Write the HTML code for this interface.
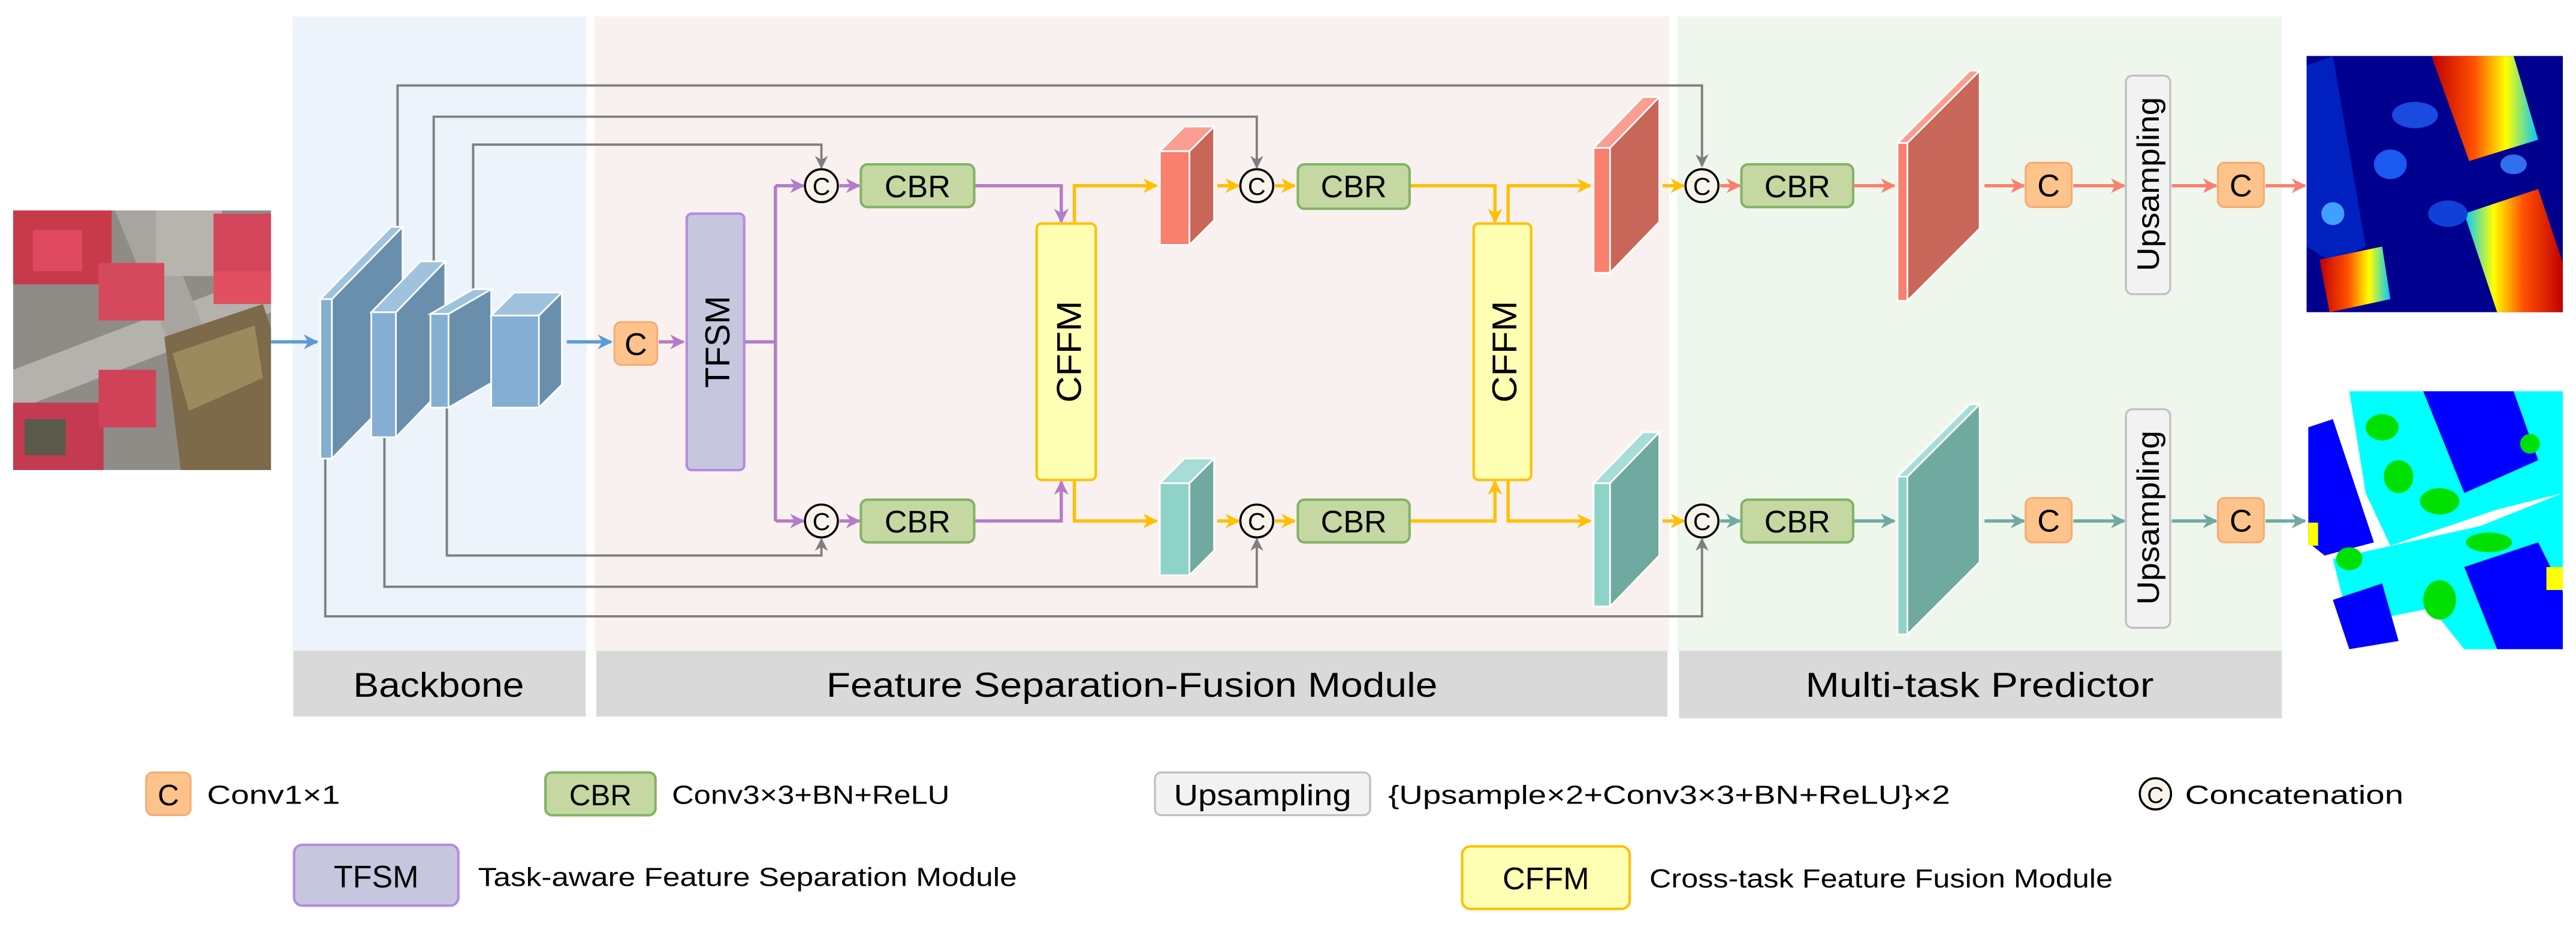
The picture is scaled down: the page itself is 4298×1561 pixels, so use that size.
<!DOCTYPE html>
<html><head><meta charset="utf-8"><style>
html,body{margin:0;padding:0;background:#fff;}
svg{display:block;}
text{font-family:"Liberation Sans",sans-serif;fill:#000;}
</style></head><body>
<svg width="4298" height="1561" viewBox="0 0 1568 569.5" preserveAspectRatio="none" xmlns="http://www.w3.org/2000/svg">
<defs>
<marker id="ag" viewBox="0 0 10 10" refX="9" refY="5" markerWidth="8" markerHeight="8" markerUnits="userSpaceOnUse" orient="auto"><path d="M0,0 L10,5 L0,10 L3,5 z" fill="#7f7f7f"/></marker>
<marker id="ap" viewBox="0 0 10 10" refX="9" refY="5" markerWidth="9" markerHeight="9" markerUnits="userSpaceOnUse" orient="auto"><path d="M0,0 L10,5 L0,10 L3,5 z" fill="#b47cc7"/></marker>
<marker id="ay" viewBox="0 0 10 10" refX="9" refY="5" markerWidth="9" markerHeight="9" markerUnits="userSpaceOnUse" orient="auto"><path d="M0,0 L10,5 L0,10 L3,5 z" fill="#ffc000"/></marker>
<marker id="ar" viewBox="0 0 10 10" refX="9" refY="5" markerWidth="9" markerHeight="9" markerUnits="userSpaceOnUse" orient="auto"><path d="M0,0 L10,5 L0,10 L3,5 z" fill="#f9806f"/></marker>
<marker id="at" viewBox="0 0 10 10" refX="9" refY="5" markerWidth="9" markerHeight="9" markerUnits="userSpaceOnUse" orient="auto"><path d="M0,0 L10,5 L0,10 L3,5 z" fill="#6fa9a0"/></marker>
<marker id="ab" viewBox="0 0 10 10" refX="9" refY="5" markerWidth="9" markerHeight="9" markerUnits="userSpaceOnUse" orient="auto"><path d="M0,0 L10,5 L0,10 L3,5 z" fill="#5b9bd5"/></marker>
<linearGradient id="jet" x1="0" y1="0" x2="1" y2="0">
<stop offset="0" stop-color="#00c8ff"/><stop offset="0.3" stop-color="#ffff00"/><stop offset="0.6" stop-color="#ff5000"/><stop offset="1" stop-color="#c00000"/></linearGradient>
<linearGradient id="jet2" x1="1" y1="0" x2="0" y2="0">
<stop offset="0" stop-color="#00c8ff"/><stop offset="0.3" stop-color="#ffff00"/><stop offset="0.6" stop-color="#ff5000"/><stop offset="1" stop-color="#c00000"/></linearGradient>
<clipPath id="c1"><rect x="8" y="128" width="157" height="158"/></clipPath>
<clipPath id="c2"><rect x="1404" y="34" width="156" height="156"/></clipPath>
<clipPath id="c3"><rect x="1405" y="238" width="155" height="157"/></clipPath>
</defs>

<rect x="178" y="10" width="179" height="386" fill="#edf3fa"/>
<rect x="362" y="10" width="654" height="386" fill="#f9f1f0"/>
<rect x="1021" y="10" width="368" height="386" fill="#eff6ec"/>
<rect x="178.5" y="396" width="178" height="40" fill="#d9d9d9"/>
<rect x="363" y="396" width="652" height="40" fill="#d9d9d9"/>
<rect x="1022" y="396" width="367" height="41" fill="#d9d9d9"/>
<text x="267" y="424" font-size="21" text-anchor="middle" textLength="104" lengthAdjust="spacingAndGlyphs">Backbone</text>
<text x="689" y="424" font-size="21" text-anchor="middle" textLength="372" lengthAdjust="spacingAndGlyphs">Feature Separation-Fusion Module</text>
<text x="1205" y="424" font-size="21" text-anchor="middle" textLength="212" lengthAdjust="spacingAndGlyphs">Multi-task Predictor</text>

<g clip-path="url(#c1)">
<rect x="8" y="128" width="157" height="158" fill="#8f8c88"/>
<polygon points="8,225 165,165 165,190 8,250" fill="#b5b2ae"/>
<polygon points="70,128 95,128 165,300 140,300" fill="#a8a5a0"/>
<rect x="8" y="128" width="60" height="45" fill="#c83a4a"/>
<rect x="20" y="140" width="30" height="25" fill="#e04a60"/>
<rect x="95" y="128" width="40" height="40" fill="#b7b4ae"/>
<rect x="130" y="130" width="35" height="40" fill="#d2455a"/>
<rect x="60" y="160" width="40" height="35" fill="#d44a5c"/>
<polygon points="100,205 160,185 165,200 165,286 110,286" fill="#7d6a4a"/>
<polygon points="105,215 155,198 160,230 115,250" fill="#9b8a5c"/>
<rect x="8" y="245" width="55" height="41" fill="#c43a50"/>
<rect x="60" y="225" width="35" height="35" fill="#d04258"/>
<rect x="15" y="255" width="25" height="22" fill="#5a5a4a"/>
<rect x="130" y="165" width="35" height="20" fill="#e05060"/>
</g>
<path d="M165,208 H193" stroke="#5b9bd5" stroke-width="2" fill="none" marker-end="url(#ab)"/>

<g stroke="#7f7f7f" stroke-width="1.4" fill="none">
<path d="M242,140 V52 H1036 V101" marker-end="url(#ag)"/>
<path d="M264,162 V71 H765 V102" marker-end="url(#ag)"/>
<path d="M288,178 V88 H500 V102" marker-end="url(#ag)"/>
<path d="M198,279 V375 H1036 V328" marker-end="url(#ag)"/>
<path d="M234,266 V357 H765 V328" marker-end="url(#ag)"/>
<path d="M272,248 V338 H500 V328" marker-end="url(#ag)"/>
</g>

<g stroke="#fff" stroke-width="1">
<polygon points="202,182 245,138 245,235 202,279" fill="#6a8fad"/>
<polygon points="195,182 202,182 245,138 238,138" fill="#9fc3dd"/>
<rect x="195" y="182" width="7" height="97" fill="#84afd2"/>
<polygon points="241,190 271,159 271,235 241,266" fill="#6a8fad"/>
<polygon points="226,190 241,190 271,159 256,159" fill="#9fc3dd"/>
<rect x="226" y="190" width="15" height="76" fill="#84afd2"/>
<polygon points="273,191 299,176 299,233 273,248" fill="#6a8fad"/>
<polygon points="262,191 273,191 299,176 288,176" fill="#9fc3dd"/>
<rect x="262" y="191" width="11" height="57" fill="#84afd2"/>
<polygon points="328,192 342,178 342,234 328,248" fill="#6a8fad"/>
<polygon points="299,192 328,192 342,178 313,178" fill="#9fc3dd"/>
<rect x="299" y="192" width="29" height="56" fill="#84afd2"/>
</g>
<path d="M345,208 H372" stroke="#5b9bd5" stroke-width="2" fill="none" marker-end="url(#ab)"/>

<rect x="374" y="196" width="26" height="26" rx="4" fill="#fec38a" stroke="#f5ad74" stroke-width="1.2"/>
<text x="387" y="216" font-size="19" text-anchor="middle">C</text>

<g stroke="#b47cc7" stroke-width="2" fill="none">
<path d="M401,208 H416" marker-end="url(#ap)"/>
<path d="M453,208 H472 M472,113 V317"/>
<path d="M472,113 H489" marker-end="url(#ap)"/>
<path d="M472,317 H489" marker-end="url(#ap)"/>
<path d="M511,113 H523" marker-end="url(#ap)"/>
<path d="M511,317 H523" marker-end="url(#ap)"/>
<path d="M593,113 H646 V135" marker-end="url(#ap)"/>
<path d="M593,317 H646 V293" marker-end="url(#ap)"/>
</g>

<rect x="418" y="130" width="35" height="156" rx="3" fill="#c6c6de" stroke="#b58ae0" stroke-width="1.5"/>
<text transform="translate(444,208) rotate(-90)" font-size="21" text-anchor="middle" textLength="56" lengthAdjust="spacingAndGlyphs">TFSM</text>

<g stroke="#ffc000" stroke-width="2" fill="none">
<path d="M654,136 V113 H704" marker-end="url(#ay)"/>
<path d="M654,292 V317 H704" marker-end="url(#ay)"/>
<path d="M741,113 H754" marker-end="url(#ay)"/>
<path d="M741,317 H754" marker-end="url(#ay)"/>
<path d="M776,113 H788" marker-end="url(#ay)"/>
<path d="M776,317 H788" marker-end="url(#ay)"/>
<path d="M858,113 H910 V135" marker-end="url(#ay)"/>
<path d="M858,317 H910 V293" marker-end="url(#ay)"/>
<path d="M918,136 V113 H968" marker-end="url(#ay)"/>
<path d="M918,292 V317 H968" marker-end="url(#ay)"/>
<path d="M1012,113 H1025" marker-end="url(#ay)"/>
<path d="M1012,317 H1025" marker-end="url(#ay)"/>
</g>

<rect x="631" y="136" width="36" height="156" rx="3" fill="#ffffb3" stroke="#ffc000" stroke-width="1.5"/>
<text transform="translate(658,214) rotate(-90)" font-size="21" text-anchor="middle" textLength="62" lengthAdjust="spacingAndGlyphs">CFFM</text>
<rect x="897" y="136" width="35" height="156" rx="3" fill="#ffffb3" stroke="#ffc000" stroke-width="1.5"/>
<text transform="translate(923,214) rotate(-90)" font-size="21" text-anchor="middle" textLength="62" lengthAdjust="spacingAndGlyphs">CFFM</text>

<g stroke="#82b366" stroke-width="1.5" fill="#c5d8a2">
<rect x="524" y="100" width="69" height="26" rx="4"/>
<rect x="524" y="304" width="69" height="26" rx="4"/>
<rect x="790" y="100" width="68" height="27" rx="4"/>
<rect x="790" y="304" width="68" height="26" rx="4"/>
<rect x="1060" y="100" width="68" height="26" rx="4"/>
<rect x="1060" y="304" width="68" height="26" rx="4"/>
</g>
<g font-size="19" text-anchor="middle">
<text x="558.5" y="120">CBR</text><text x="558.5" y="324">CBR</text>
<text x="824" y="120">CBR</text><text x="824" y="324">CBR</text>
<text x="1094" y="120">CBR</text><text x="1094" y="324">CBR</text>
</g>

<g fill="#f8f4ea" stroke="#000" stroke-width="1.3">
<circle cx="500" cy="113" r="10"/><circle cx="500" cy="317" r="10"/>
<circle cx="765" cy="113" r="10"/><circle cx="765" cy="317" r="10"/>
<circle cx="1036" cy="113" r="10"/><circle cx="1036" cy="317" r="10"/>
</g>
<g font-size="15" text-anchor="middle">
<text x="500" y="118.5">C</text><text x="500" y="322.5">C</text>
<text x="765" y="118.5">C</text><text x="765" y="322.5">C</text>
<text x="1036" y="118.5">C</text><text x="1036" y="322.5">C</text>
</g>

<g stroke="#fff" stroke-width="1">
<polygon points="724,92 739,77 739,134 724,149" fill="#c9665a"/>
<polygon points="706,92 724,92 739,77 721,77" fill="#f99e90"/>
<rect x="706" y="92" width="18" height="57" fill="#f9806f"/>
<polygon points="724,294 739,279 739,335 724,350" fill="#70a9a0"/>
<polygon points="706,294 724,294 739,279 721,279" fill="#a6ddd6"/>
<rect x="706" y="294" width="18" height="56" fill="#8fd3c8"/>
<polygon points="980,90 1010,59 1010,135 980,166" fill="#c9665a"/>
<polygon points="970,90 980,90 1010,59 1000,59" fill="#f99e90"/>
<rect x="970" y="90" width="10" height="76" fill="#f9806f"/>
<polygon points="980,294 1010,263 1010,338 980,369" fill="#70a9a0"/>
<polygon points="970,294 980,294 1010,263 1000,263" fill="#a6ddd6"/>
<rect x="970" y="294" width="10" height="75" fill="#8fd3c8"/>
<polygon points="1161,87 1205,43 1205,139 1161,183" fill="#c9665a"/>
<polygon points="1155,87 1161,87 1205,43 1199,43" fill="#f99e90"/>
<rect x="1155" y="87" width="6" height="96" fill="#f9806f"/>
<polygon points="1161,290 1205,246 1205,342 1161,386" fill="#70a9a0"/>
<polygon points="1155,290 1161,290 1205,246 1199,246" fill="#a6ddd6"/>
<rect x="1155" y="290" width="6" height="96" fill="#8fd3c8"/>
</g>

<g stroke="#f9806f" stroke-width="2" fill="none">
<path d="M1047,113 H1059" marker-end="url(#ar)"/>
<path d="M1128,113 H1153" marker-end="url(#ar)"/>
<path d="M1208,113 H1232" marker-end="url(#ar)"/>
<path d="M1262,113 H1293" marker-end="url(#ar)"/>
<path d="M1322,113 H1349" marker-end="url(#ar)"/>
<path d="M1379,113 H1403" marker-end="url(#ar)"/>
</g>
<g stroke="#6fa9a0" stroke-width="2" fill="none">
<path d="M1047,317 H1059" marker-end="url(#at)"/>
<path d="M1128,317 H1153" marker-end="url(#at)"/>
<path d="M1208,317 H1232" marker-end="url(#at)"/>
<path d="M1262,317 H1293" marker-end="url(#at)"/>
<path d="M1322,317 H1349" marker-end="url(#at)"/>
<path d="M1379,317 H1403" marker-end="url(#at)"/>
</g>
<g fill="#fec38a" stroke="#f5ad74" stroke-width="1.2">
<rect x="1233" y="99" width="28" height="27" rx="4"/>
<rect x="1350" y="99" width="28" height="27" rx="4"/>
<rect x="1233" y="303" width="28" height="27" rx="4"/>
<rect x="1350" y="303" width="28" height="27" rx="4"/>
</g>
<g font-size="19" text-anchor="middle">
<text x="1247" y="119.5">C</text><text x="1364" y="119.5">C</text>
<text x="1247" y="323.5">C</text><text x="1364" y="323.5">C</text>
</g>
<rect x="1294" y="46" width="27" height="133" rx="4" fill="#f2f2f2" stroke="#c0c0c0" stroke-width="1.2"/>
<rect x="1294" y="249" width="27" height="133" rx="4" fill="#f2f2f2" stroke="#c0c0c0" stroke-width="1.2"/>
<text transform="translate(1314,112) rotate(-90)" font-size="19" text-anchor="middle" textLength="106" lengthAdjust="spacingAndGlyphs">Upsampling</text>
<text transform="translate(1314,315) rotate(-90)" font-size="19" text-anchor="middle" textLength="106" lengthAdjust="spacingAndGlyphs">Upsampling</text>

<g clip-path="url(#c2)">
<rect x="1404" y="34" width="156" height="156" fill="#00008f"/>
<polygon points="1404,40 1420,34 1440,150 1420,160 1404,150" fill="#0020c0"/>
<polygon points="1480,34 1530,34 1545,85 1503,98" fill="url(#jet2)"/>
<polygon points="1500,130 1545,115 1560,160 1560,190 1520,190" fill="url(#jet)"/>
<polygon points="1412,158 1450,150 1455,182 1418,190" fill="url(#jet2)"/>
<ellipse cx="1470" cy="70" rx="14" ry="8" fill="#1a4ae0"/>
<ellipse cx="1455" cy="100" rx="10" ry="9" fill="#1a5af0"/>
<ellipse cx="1490" cy="130" rx="12" ry="8" fill="#1040d8"/>
<ellipse cx="1530" cy="100" rx="8" ry="6" fill="#3070f0"/>
<ellipse cx="1420" cy="130" rx="7" ry="7" fill="#40a0ff"/>
</g>

<g clip-path="url(#c3)">
<rect x="1405" y="238" width="155" height="157" fill="#fff"/>
<polygon points="1430,238 1560,238 1560,300 1520,310 1455,332 1440,300" fill="#00ffff"/>
<polygon points="1475,238 1530,238 1545,280 1500,300" fill="#0000ff"/>
<polygon points="1405,260 1420,255 1445,330 1415,338 1405,330" fill="#0000ff"/>
<polygon points="1420,340 1510,320 1560,300 1560,395 1500,395 1480,370 1430,380" fill="#00ffff"/>
<polygon points="1500,345 1545,330 1560,360 1560,395 1520,395" fill="#0000ff"/>
<polygon points="1420,365 1450,355 1460,390 1430,395" fill="#0000ff"/>
<ellipse cx="1450" cy="260" rx="10" ry="8" fill="#00e000"/>
<ellipse cx="1460" cy="290" rx="9" ry="10" fill="#00e000"/>
<ellipse cx="1485" cy="305" rx="12" ry="8" fill="#00e000"/>
<ellipse cx="1430" cy="340" rx="8" ry="7" fill="#00e000"/>
<ellipse cx="1515" cy="330" rx="14" ry="6" fill="#00e000"/>
<ellipse cx="1485" cy="365" rx="10" ry="12" fill="#00e000"/>
<ellipse cx="1540" cy="270" rx="6" ry="6" fill="#00e000"/>
<rect x="1548" y="238" width="12" height="40" fill="#00ffff"/>
<rect x="1405" y="318" width="6" height="14" fill="#ffff00"/>
<rect x="1550" y="345" width="10" height="14" fill="#ffff00"/>
</g>

<rect x="89" y="470" width="27" height="26" rx="4" fill="#fec38a" stroke="#f5ad74" stroke-width="1.2"/>
<text x="102.5" y="490" font-size="18" text-anchor="middle">C</text>
<text x="126" y="489" font-size="16" textLength="81" lengthAdjust="spacingAndGlyphs">Conv1×1</text>
<rect x="332" y="470" width="67" height="26" rx="4" fill="#c5d8a2" stroke="#82b366" stroke-width="1.5"/>
<text x="365.5" y="490" font-size="18" text-anchor="middle">CBR</text>
<text x="409" y="489" font-size="16" textLength="169" lengthAdjust="spacingAndGlyphs">Conv3×3+BN+ReLU</text>
<rect x="703" y="470" width="131" height="26" rx="4" fill="#f2f2f2" stroke="#c0c0c0" stroke-width="1.2"/>
<text x="768.5" y="490" font-size="18" text-anchor="middle" textLength="108" lengthAdjust="spacingAndGlyphs">Upsampling</text>
<text x="845" y="489" font-size="16" textLength="342" lengthAdjust="spacingAndGlyphs">{Upsample×2+Conv3×3+BN+ReLU}×2</text>
<circle cx="1312" cy="483" r="9.5" fill="#f8f4ea" stroke="#000" stroke-width="1.3"/>
<text x="1312" y="488.5" font-size="14" text-anchor="middle">C</text>
<text x="1330" y="489" font-size="16" textLength="133" lengthAdjust="spacingAndGlyphs">Concatenation</text>
<rect x="179" y="514" width="100" height="37" rx="5" fill="#c6c6de" stroke="#b58ae0" stroke-width="1.5"/>
<text x="229" y="540" font-size="19" text-anchor="middle">TFSM</text>
<text x="291" y="539" font-size="16" textLength="328" lengthAdjust="spacingAndGlyphs">Task-aware Feature Separation Module</text>
<rect x="890" y="515" width="102" height="38" rx="5" fill="#ffffb3" stroke="#ffc000" stroke-width="1.5"/>
<text x="941" y="541" font-size="19" text-anchor="middle">CFFM</text>
<text x="1004" y="540" font-size="16" textLength="282" lengthAdjust="spacingAndGlyphs">Cross-task Feature Fusion Module</text>
</svg>
</body></html>
